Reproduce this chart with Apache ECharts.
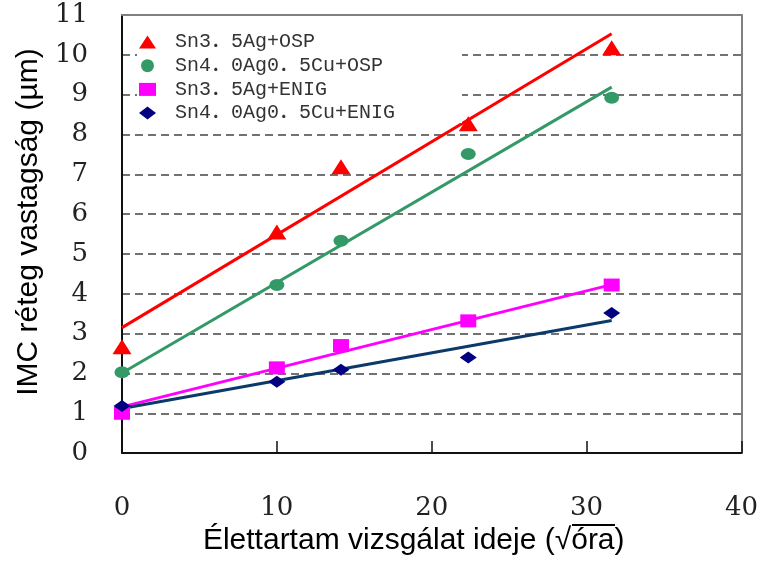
<!DOCTYPE html>
<html>
<head>
<meta charset="utf-8">
<script src="https://cdn.jsdelivr.net/npm/echarts@6/dist/echarts.min.js"></script>
<style>html,body{margin:0;padding:0;background:#fff;}#c{width:761px;height:561px;}</style>
</head>
<body>
<div id="c"></div>
<script>
// ---- data ----
const times = [0, 10, 14.14, 22.36, 31.62];
const seriesNames = ['Sn3．5Ag+OSP', 'Sn4．0Ag0．5Cu+OSP', 'Sn3．5Ag+ENIG', 'Sn4．0Ag0．5Cu+ENIG'];
const sn35OSP = [2.67, 5.55, 7.19, 8.27, 10.18];
const sn40OSP = [2.03, 4.22, 5.33, 7.51, 8.92];
const sn35ENIG = [1.0, 2.14, 2.70, 3.32, 4.22];
const sn40ENIG = [1.18, 1.79, 2.09, 2.40, 3.52];
// fitted trend lines: value at first and last time
const trendStart = [3.15, 2.01, 1.16, 1.12];
const trendEnd = [10.53, 9.19, 4.23, 3.33];
const xTicks = [0, 10, 20, 30, 40];
const yTicks = [0, 1, 2, 3, 4, 5, 6, 7, 8, 9, 10, 11];
const xTitle = 'Élettartam vizsgálat ideje (√óra)';
const yTitle = 'IMC réteg vastagság (µm)';

const values = [sn35OSP, sn40OSP, sn35ENIG, sn40ENIG];
const markerColors = ['#FF0000', '#339966', '#FF00FF', '#000080'];
const lineColors = ['#FF0000', '#339966', '#FF00FF', '#0B3A6A'];
const symbols = ['triangle', 'circle', 'rect', 'diamond'];
const symbolSizes = [[19, 15], [15, 12], [16, 13], [17, 12]];

const chart = echarts.init(document.getElementById('c'), null, {renderer: 'canvas'});

const series = [];
values.forEach((vals, i) => {
  series.push({
    type: 'line',
    name: 'trend' + i,
    data: [[times[0], trendStart[i]], [times[times.length - 1], trendEnd[i]]],
    showSymbol: false,
    symbol: 'none',
    lineStyle: {color: lineColors[i], width: 3},
    z: 2,
    silent: true,
    animation: false
  });
});
values.forEach((vals, i) => {
  series.push({
    type: 'scatter',
    name: seriesNames[i],
    data: times.map((t, j) => [t, vals[j]]),
    symbol: symbols[i],
    symbolSize: symbolSizes[i],
    itemStyle: {color: markerColors[i], opacity: 1},
    z: 3,
    animation: false
  });
});

const option = {
  backgroundColor: '#fff',
  animation: false,
  grid: {left: 122, right: 19, top: 15, bottom: 107, containLabel: false},
  legend: {
    orient: 'vertical',
    left: 137,
    top: 17,
    padding: [15, 67, 0, 2],
    backgroundColor: '#fff',
    itemWidth: 17,
    itemHeight: 13,
    itemGap: 3.7,
    symbolKeepAspect: false,
    data: seriesNames.map((n, i) => ({name: n, icon: symbols[i], itemStyle: {color: markerColors[i]}})),
    textStyle: {fontFamily: '"Liberation Mono", "Noto Sans CJK JP"', fontSize: 20, color: '#333', padding: [0, 0, 0, 14]},
    z: 10
  },
  graphic: [{
    type: 'line', z: 20,
    shape: {x1: 572, y1: 525, x2: 615, y2: 525},
    style: {stroke: '#000', lineWidth: 2}
  }],
  xAxis: [{
    type: 'value', position: 'bottom', min: xTicks[0], max: xTicks[xTicks.length - 1], interval: 10,
    axisLine: {show: true, onZero: false, lineStyle: {color: '#111', width: 2}},
    axisTick: {show: true, inside: true, length: 12, lineStyle: {color: '#111', width: 1.5}},
    axisLabel: {margin: 42, fontFamily: 'DejaVu Serif', fontSize: 26, color: '#222'},
    splitLine: {show: false},
    name: xTitle, nameLocation: 'middle', nameGap: 63,
    nameTextStyle: {fontFamily: 'Liberation Sans', fontSize: 30, color: '#000', padding: [0, 36, 0, 0]}
  }, {
    type: 'value', position: 'top', min: xTicks[0], max: xTicks[xTicks.length - 1], interval: 10,
    axisLine: {show: true, onZero: false, lineStyle: {color: '#808080', width: 2}},
    axisTick: {show: false}, axisLabel: {show: false}, splitLine: {show: false}
  }],
  yAxis: [{
    type: 'value', position: 'left', min: yTicks[0], max: yTicks[yTicks.length - 1], interval: 1,
    axisLine: {show: true, onZero: false, lineStyle: {color: '#111', width: 2}},
    axisTick: {show: false},
    axisLabel: {margin: 34, fontFamily: 'DejaVu Serif', fontSize: 26, color: '#222'},
    splitLine: {show: true, showMinLine: false, showMaxLine: false, lineStyle: {color: '#444', width: 1.5, type: [8, 5]}},
    name: yTitle, nameLocation: 'middle', nameGap: 78, nameRotate: 90,
    nameTextStyle: {fontFamily: 'Liberation Sans', fontSize: 30, color: '#000', padding: [0, 0, 0, 24]}
  }, {
    type: 'value', position: 'right', min: yTicks[0], max: yTicks[yTicks.length - 1], interval: 1,
    axisLine: {show: true, onZero: false, lineStyle: {color: '#808080', width: 2}},
    axisTick: {show: false}, axisLabel: {show: false}, splitLine: {show: false}
  }],
  series: series
};
chart.setOption(option);
</script>
</body>
</html>
